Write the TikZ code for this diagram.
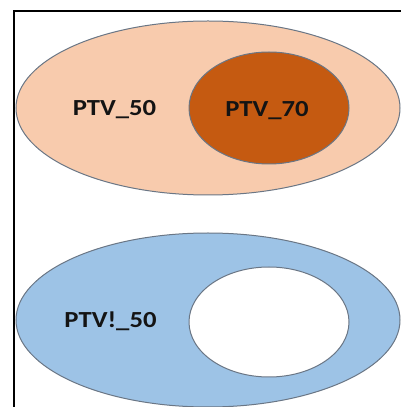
\documentclass[tikz,border=0pt]{standalone}
\usepackage{fontspec}
\setmainfont{Carlito}
\definecolor{peach}{HTML}{F8CBAD}
\definecolor{rust}{HTML}{C55A11}
\definecolor{skyb}{HTML}{9DC3E6}
\definecolor{edge}{HTML}{6A7685}
\definecolor{ink}{HTML}{141414}
\begin{document}
\begin{tikzpicture}[x=1pt,y=1pt,
  outline/.style={draw=edge,line width=1pt},
  lbl/.style={font=\fontsize{23}{26}\selectfont\bfseries,text=ink,anchor=base,inner sep=0pt,xscale=1.16}]
\useasboundingbox (0,0) rectangle (401,407);
\fill[white] (0,0) rectangle (401,407);
% frame
\draw[line width=2pt,black] (14,0) -- (14,395.5) -- (401,395.5);
% upper
\draw[outline,fill=peach] (208,299) ellipse [x radius=192,y radius=87];
\draw[outline,fill=rust] (269,299) ellipse [x radius=80,y radius=56];
\node[lbl] (p50) at (114.5,291) {PTV\_50};
\node[lbl] (p70) at (267,290) {PTV\_70};
% lower
\draw[outline,fill=skyb] (208,87) ellipse [x radius=192,y radius=87];
\draw[outline,fill=white] (269,85) ellipse [x radius=80,y radius=55];
\node[lbl] (n50) at (110.5,79) {PTV!\_50};
\end{tikzpicture}
\end{document}
